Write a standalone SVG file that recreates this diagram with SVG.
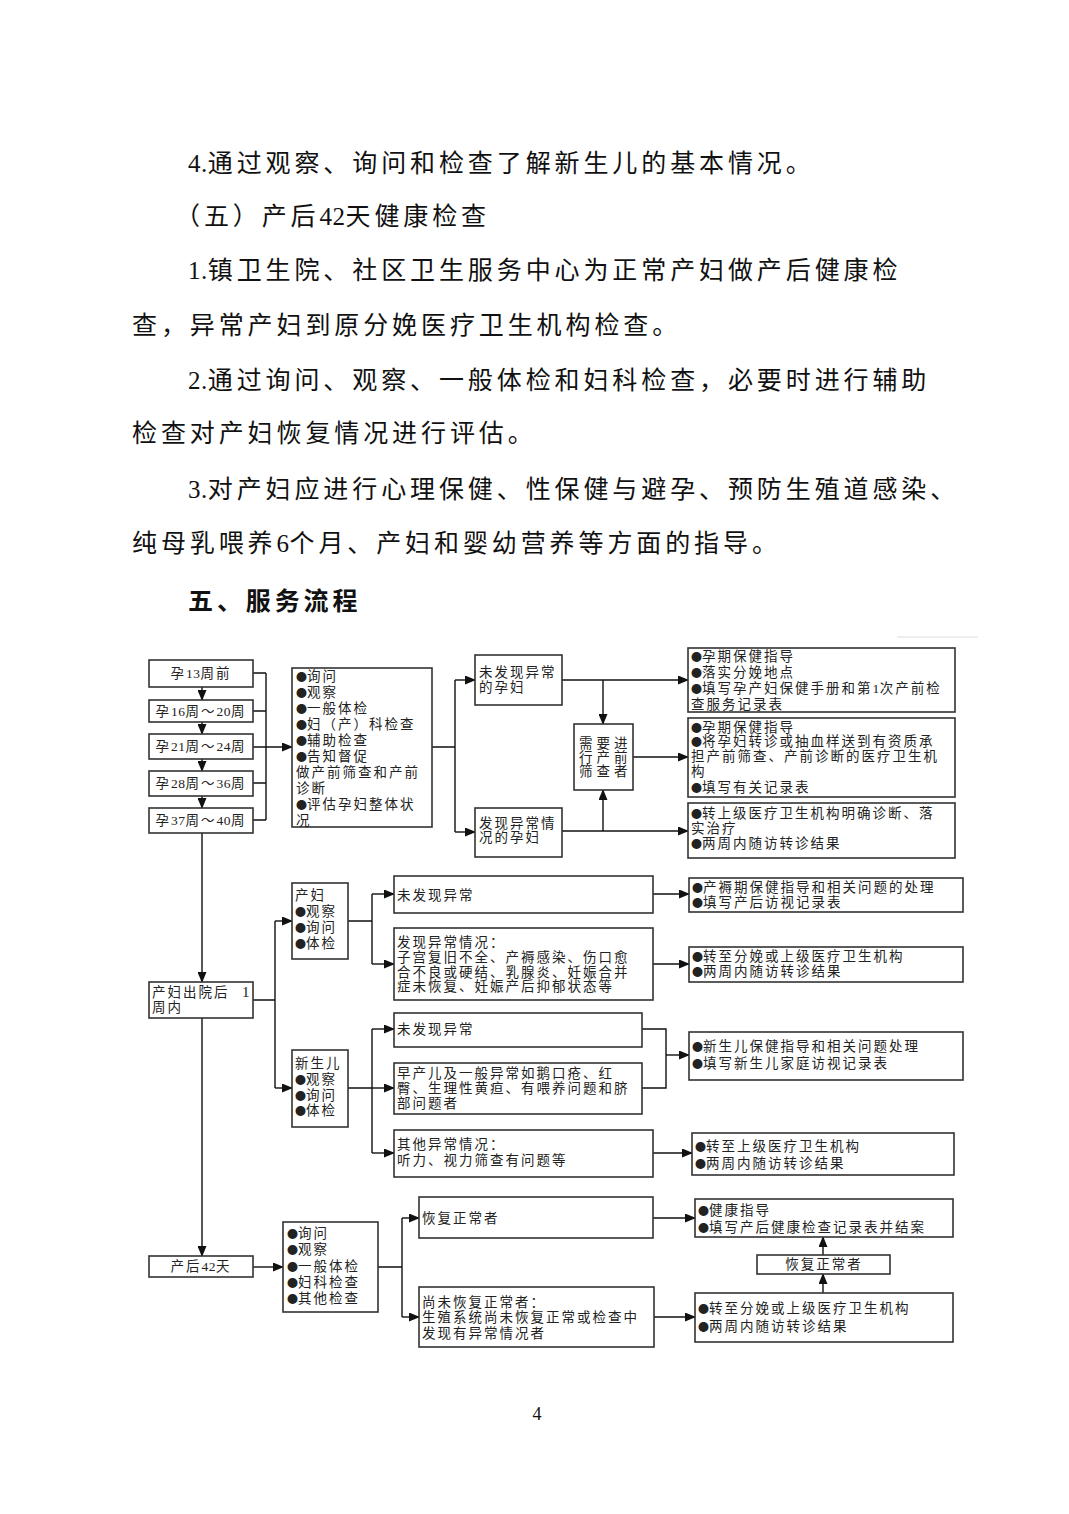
<svg xmlns="http://www.w3.org/2000/svg" width="1069" height="1514" viewBox="0 0 1069 1514">
<style>
.body{font-family:"Liberation Serif","Noto Sans CJK SC",serif;font-size:25px;letter-spacing:3.9px;fill:#111}
.h{font-weight:bold}
.b{fill:#fff;stroke:#333;stroke-width:1.6}
.t{font-family:"Liberation Serif","Noto Sans CJK SC",serif;font-size:13.5px;letter-spacing:2px;fill:#222}
.m{text-anchor:middle}
.bl{font-family:"Noto Sans CJK SC",sans-serif;font-size:11px;letter-spacing:0px}
.d{letter-spacing:0.5px}
.c{fill:none;stroke:#111;stroke-width:1.4}
.a{marker-end:url(#ah)}
</style>
<defs>
<marker id="ah" markerUnits="userSpaceOnUse" markerWidth="11" markerHeight="9" refX="10" refY="4.5" orient="auto">
<path d="M0,0 L11,4.5 L0,9 Z" fill="#111"/>
</marker>
</defs>
<rect width="1069" height="1514" fill="#fff"/>
<g id="page-text">
<text class="body" x="188" y="172"><tspan class="d">4.</tspan>通过观察、询问和检查了解新生儿的基本情况。</text>
<text class="body" x="175" y="225">（五）产后<tspan class="d">42</tspan>天健康检查</text>
<text class="body" x="188" y="279"><tspan class="d">1.</tspan>镇卫生院、社区卫生服务中心为正常产妇做产后健康检</text>
<text class="body" x="132" y="334">查，异常产妇到原分娩医疗卫生机构检查。</text>
<text class="body" x="188" y="389"><tspan class="d">2.</tspan>通过询问、观察、一般体检和妇科检查，必要时进行辅助</text>
<text class="body" x="132" y="442">检查对产妇恢复情况进行评估。</text>
<text class="body" x="188" y="498"><tspan class="d">3.</tspan>对产妇应进行心理保健、性保健与避孕、预防生殖道感染、</text>
<text class="body" x="132" y="552">纯母乳喂养<tspan class="d">6</tspan>个月、产妇和婴幼营养等方面的指导。</text>
<text class="body h" x="188" y="610">五、服务流程</text>
<text x="537" y="1420" style="font-family:'Liberation Serif',serif;font-size:18px;text-anchor:middle;fill:#111">4</text>
<line x1="897" y1="637" x2="978" y2="637" stroke="#ddd" stroke-width="1"/>
</g>
<g id="connectors">
<path class="c a" d="M202,687 V700"/>
<path class="c a" d="M202,722 V734"/>
<path class="c a" d="M202,759 V771"/>
<path class="c a" d="M202,796 V808"/>
<path class="c" d="M253,673 H266 M253,711 H266 M253,783 H266 M253,820 H266 M266,673 V820"/>
<path class="c a" d="M253,747 H292"/>
<path class="c" d="M432,747 H455 M455,680 V832"/>
<path class="c a" d="M455,680 H475"/>
<path class="c a" d="M455,832 H475"/>
<path class="c a" d="M562,680 H688"/>
<path class="c a" d="M603,680 V724"/>
<path class="c a" d="M562,831 H688"/>
<path class="c a" d="M603,831 V790"/>
<path class="c a" d="M633,757 H688"/>
<path class="c a" d="M202,833 V982"/>
<path class="c a" d="M202,1018 V1256"/>
<path class="c" d="M253,1000 H275 M275,921 V1088"/>
<path class="c a" d="M275,921 H292"/>
<path class="c a" d="M275,1088 H292"/>
<path class="c" d="M348,921 H372 M372,894 V964"/>
<path class="c a" d="M372,894 H394"/>
<path class="c a" d="M372,964 H394"/>
<path class="c a" d="M653,894 H689"/>
<path class="c a" d="M653,964 H689"/>
<path class="c" d="M348,1088 H372 M372,1029 V1153"/>
<path class="c a" d="M372,1029 H394"/>
<path class="c a" d="M372,1088 H394"/>
<path class="c a" d="M372,1153 H394"/>
<path class="c" d="M642,1029 H666 V1088 H642"/>
<path class="c a" d="M666,1055 H689"/>
<path class="c a" d="M653,1153 H692"/>
<path class="c a" d="M253,1267 H283"/>
<path class="c" d="M378,1267 H402 M402,1218 V1317"/>
<path class="c a" d="M402,1218 H419"/>
<path class="c a" d="M402,1317 H419"/>
<path class="c a" d="M653,1218 H695"/>
<path class="c a" d="M654,1317 H695"/>
<path class="c a" d="M823,1255 V1237"/>
<path class="c a" d="M823,1293 V1274"/>
</g>
<g id="n-w13"><rect class="b" x="149" y="660" width="104" height="27"/><text class="t m" x="201" y="678">孕<tspan class="d">13</tspan>周前</text></g>
<g id="n-w16"><rect class="b" x="149" y="700" width="104" height="22"/><text class="t m" x="201" y="716">孕<tspan class="d">16</tspan>周～<tspan class="d">20</tspan>周</text></g>
<g id="n-w21"><rect class="b" x="149" y="734" width="104" height="25"/><text class="t m" x="201" y="751">孕<tspan class="d">21</tspan>周～<tspan class="d">24</tspan>周</text></g>
<g id="n-w28"><rect class="b" x="149" y="771" width="104" height="25"/><text class="t m" x="201" y="788">孕<tspan class="d">28</tspan>周～<tspan class="d">36</tspan>周</text></g>
<g id="n-w37"><rect class="b" x="149" y="808" width="104" height="25"/><text class="t m" x="201" y="825">孕<tspan class="d">37</tspan>周～<tspan class="d">40</tspan>周</text></g>
<g id="n-prenatal-checks"><rect class="b" x="292" y="668" width="140" height="159"/>
<text class="t" x="296" y="681"><tspan class="bl">●</tspan>询问</text>
<text class="t" x="296" y="697"><tspan class="bl">●</tspan>观察</text>
<text class="t" x="296" y="713"><tspan class="bl">●</tspan>一般体检</text>
<text class="t" x="296" y="729"><tspan class="bl">●</tspan>妇（产）科检查</text>
<text class="t" x="296" y="745"><tspan class="bl">●</tspan>辅助检查</text>
<text class="t" x="296" y="761"><tspan class="bl">●</tspan>告知督促</text>
<text class="t" x="296" y="777">做产前筛查和产前</text>
<text class="t" x="296" y="793">诊断</text>
<text class="t" x="296" y="809"><tspan class="bl">●</tspan>评估孕妇整体状</text>
<text class="t" x="296" y="825">况</text>
</g>
<g id="n-normal-preg"><rect class="b" x="475" y="655" width="87" height="50"/>
<text class="t" x="479" y="677">未发现异常</text><text class="t" x="479" y="692">的孕妇</text></g>
<g id="n-abnormal-preg"><rect class="b" x="475" y="808" width="87" height="49"/>
<text class="t" x="479" y="828">发现异常情</text><text class="t" x="479" y="842">况的孕妇</text></g>
<g id="n-screening"><rect class="b" x="574" y="724" width="59" height="66"/>
<text class="t" x="579" y="748" style="letter-spacing:4px">需要进</text>
<text class="t" x="579" y="762" style="letter-spacing:4px">行产前</text>
<text class="t" x="579" y="776" style="letter-spacing:4px">筛查者</text></g>
<g id="n-r1"><rect class="b" x="688" y="648" width="267" height="64"/>
<text class="t" x="691" y="661"><tspan class="bl">●</tspan>孕期保健指导</text>
<text class="t" x="691" y="677"><tspan class="bl">●</tspan>落实分娩地点</text>
<text class="t" x="691" y="693"><tspan class="bl">●</tspan>填写孕产妇保健手册和第<tspan class="d">1</tspan>次产前检</text>
<text class="t" x="691" y="709">查服务记录表</text></g>
<g id="n-r2"><rect class="b" x="688" y="718" width="267" height="79"/>
<text class="t" x="691" y="732"><tspan class="bl">●</tspan>孕期保健指导</text>
<text class="t" x="691" y="746"><tspan class="bl">●</tspan>将孕妇转诊或抽血样送到有资质承</text>
<text class="t" x="691" y="761">担产前筛查、产前诊断的医疗卫生机</text>
<text class="t" x="691" y="776">构</text>
<text class="t" x="691" y="792"><tspan class="bl">●</tspan>填写有关记录表</text></g>
<g id="n-r3"><rect class="b" x="688" y="803" width="267" height="55"/>
<text class="t" x="691" y="818"><tspan class="bl">●</tspan>转上级医疗卫生机构明确诊断、落</text>
<text class="t" x="691" y="833">实治疗</text>
<text class="t" x="691" y="848"><tspan class="bl">●</tspan>两周内随访转诊结果</text></g>
<g id="n-discharge"><rect class="b" x="149" y="982" width="104" height="36"/>
<text class="t" x="152" y="997">产妇出院后<tspan x="242" style="font-size:15px">1</tspan></text>
<text class="t" x="152" y="1012">周内</text></g>
<g id="n-mother"><rect class="b" x="292" y="883" width="56" height="76"/>
<text class="t" x="295" y="900">产妇</text>
<text class="t" x="295" y="916"><tspan class="bl">●</tspan>观察</text>
<text class="t" x="295" y="932"><tspan class="bl">●</tspan>询问</text>
<text class="t" x="295" y="948"><tspan class="bl">●</tspan>体检</text></g>
<g id="n-m-normal"><rect class="b" x="394" y="876" width="259" height="37"/>
<text class="t" x="397" y="900">未发现异常</text></g>
<g id="n-m-abnormal"><rect class="b" x="394" y="928" width="259" height="72"/>
<text class="t" x="397" y="947">发现异常情况：</text>
<text class="t" x="397" y="962">子宫复旧不全、产褥感染、伤口愈</text>
<text class="t" x="397" y="977">合不良或硬结、乳腺炎、妊娠合并</text>
<text class="t" x="397" y="991">症未恢复、妊娠产后抑郁状态等</text></g>
<g id="n-m-r1"><rect class="b" x="689" y="878" width="274" height="34"/>
<text class="t" x="692" y="892"><tspan class="bl">●</tspan>产褥期保健指导和相关问题的处理</text>
<text class="t" x="692" y="907"><tspan class="bl">●</tspan>填写产后访视记录表</text></g>
<g id="n-m-r2"><rect class="b" x="689" y="947" width="274" height="35"/>
<text class="t" x="692" y="961"><tspan class="bl">●</tspan>转至分娩或上级医疗卫生机构</text>
<text class="t" x="692" y="976"><tspan class="bl">●</tspan>两周内随访转诊结果</text></g>
<g id="n-newborn"><rect class="b" x="292" y="1050" width="56" height="77"/>
<text class="t" x="295" y="1068">新生儿</text>
<text class="t" x="295" y="1084"><tspan class="bl">●</tspan>观察</text>
<text class="t" x="295" y="1100"><tspan class="bl">●</tspan>询问</text>
<text class="t" x="295" y="1115"><tspan class="bl">●</tspan>体检</text></g>
<g id="n-b-normal"><rect class="b" x="394" y="1013" width="248" height="34"/>
<text class="t" x="397" y="1034">未发现异常</text></g>
<g id="n-b-premature"><rect class="b" x="394" y="1063" width="248" height="51"/>
<text class="t" x="397" y="1078">早产儿及一般异常如鹅口疮、红</text>
<text class="t" x="397" y="1093">臀、生理性黄疸、有喂养问题和脐</text>
<text class="t" x="397" y="1108">部问题者</text></g>
<g id="n-b-other"><rect class="b" x="394" y="1130" width="259" height="47"/>
<text class="t" x="397" y="1149">其他异常情况：</text>
<text class="t" x="397" y="1165">听力、视力筛查有问题等</text></g>
<g id="n-b-r1"><rect class="b" x="689" y="1032" width="274" height="48"/>
<text class="t" x="692" y="1051"><tspan class="bl">●</tspan>新生儿保健指导和相关问题处理</text>
<text class="t" x="692" y="1068"><tspan class="bl">●</tspan>填写新生儿家庭访视记录表</text></g>
<g id="n-b-r2"><rect class="b" x="692" y="1133" width="262" height="42"/>
<text class="t" x="695" y="1151"><tspan class="bl">●</tspan>转至上级医疗卫生机构</text>
<text class="t" x="695" y="1168"><tspan class="bl">●</tspan>两周内随访转诊结果</text></g>
<g id="n-42d"><rect class="b" x="149" y="1256" width="104" height="21"/>
<text class="t m" x="201" y="1271">产后<tspan class="d">42</tspan>天</text></g>
<g id="n-42d-checks"><rect class="b" x="283" y="1222" width="95" height="90"/>
<text class="t" x="287" y="1238"><tspan class="bl">●</tspan>询问</text>
<text class="t" x="287" y="1254"><tspan class="bl">●</tspan>观察</text>
<text class="t" x="287" y="1271"><tspan class="bl">●</tspan>一般体检</text>
<text class="t" x="287" y="1287"><tspan class="bl">●</tspan>妇科检查</text>
<text class="t" x="287" y="1303"><tspan class="bl">●</tspan>其他检查</text></g>
<g id="n-recovered"><rect class="b" x="419" y="1197" width="234" height="41"/>
<text class="t" x="422" y="1223">恢复正常者</text></g>
<g id="n-not-recovered"><rect class="b" x="419" y="1287" width="235" height="60"/>
<text class="t" x="422" y="1307">尚未恢复正常者：</text>
<text class="t" x="422" y="1322">生殖系统尚未恢复正常或检查中</text>
<text class="t" x="422" y="1338">发现有异常情况者</text></g>
<g id="n-42-r1"><rect class="b" x="695" y="1199" width="258" height="38"/>
<text class="t" x="698" y="1215"><tspan class="bl">●</tspan>健康指导</text>
<text class="t" x="698" y="1232"><tspan class="bl">●</tspan>填写产后健康检查记录表并结案</text></g>
<g id="n-42-recovered"><rect class="b" x="757" y="1255" width="133" height="19"/>
<text class="t m" x="824" y="1269">恢复正常者</text></g>
<g id="n-42-r2"><rect class="b" x="695" y="1293" width="258" height="49"/>
<text class="t" x="698" y="1313"><tspan class="bl">●</tspan>转至分娩或上级医疗卫生机构</text>
<text class="t" x="698" y="1331"><tspan class="bl">●</tspan>两周内随访转诊结果</text></g>
</svg>
